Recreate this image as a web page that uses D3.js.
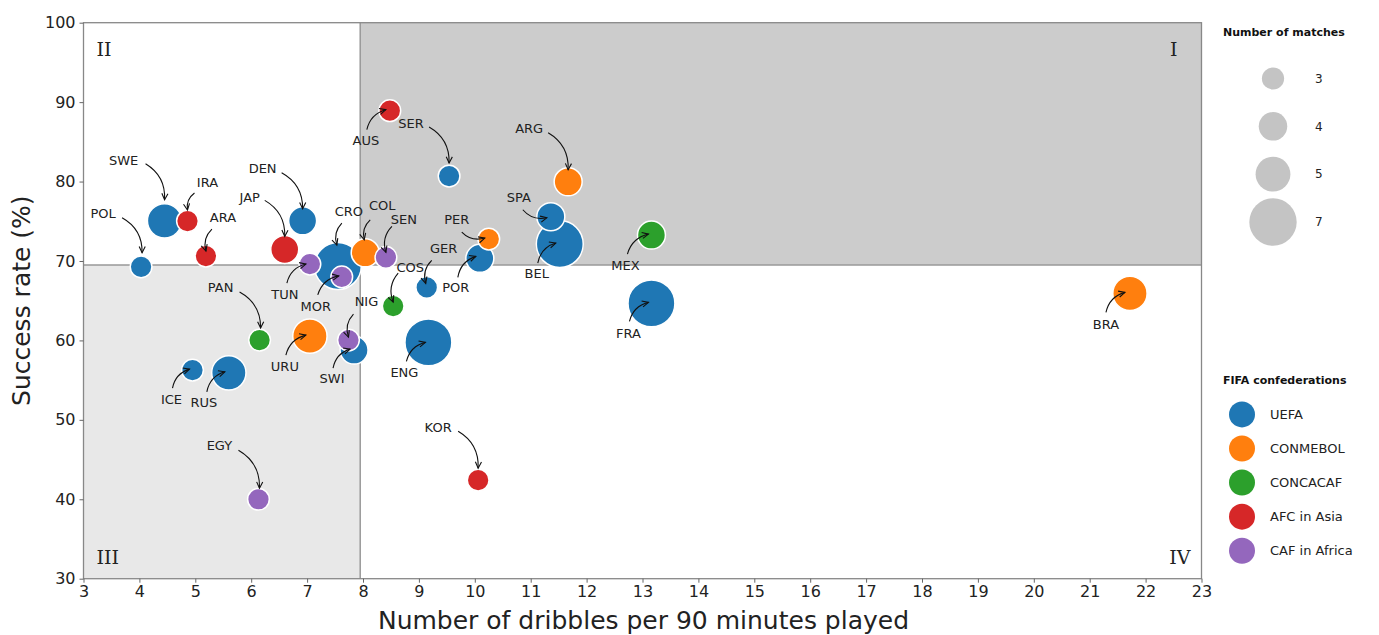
<!DOCTYPE html>
<html>
<head>
<meta charset="utf-8">
<script src="https://cdn.jsdelivr.net/npm/d3@7"></script>
<style>
  body { margin: 0; background: #fff; }
  text { font-family: "DejaVu Sans", sans-serif; }
</style>
</head>
<body>
<div id="chart-area"></div>
<script>
// data
var teams = ['POL', 'SWE', 'DEN', 'BEL', 'CRO', 'SER', 'GER', 'POR', 'ENG', 'SWI', 'ICE', 'RUS', 'SPA', 'FRA',
             'COL', 'PER', 'URU', 'ARG', 'BRA',
             'COS', 'MEX', 'PAN',
             'IRA', 'ARA', 'JAP', 'AUS', 'KOR',
             'TUN', 'MOR', 'SEN', 'NIG', 'EGY'];
var confeds = ['UEFA', 'UEFA', 'UEFA', 'UEFA', 'UEFA', 'UEFA', 'UEFA', 'UEFA', 'UEFA', 'UEFA', 'UEFA', 'UEFA', 'UEFA', 'UEFA',
               'CONMEBOL', 'CONMEBOL', 'CONMEBOL', 'CONMEBOL', 'CONMEBOL',
               'CONCACAF', 'CONCACAF', 'CONCACAF',
               'AFC in Asia', 'AFC in Asia', 'AFC in Asia', 'AFC in Asia', 'AFC in Asia',
               'CAF in Africa', 'CAF in Africa', 'CAF in Africa', 'CAF in Africa', 'CAF in Africa'];
var dribbles = [4.03, 4.45, 6.92, 11.52, 7.55, 9.54, 9.14, 10.09, 9.17, 7.84, 4.95, 5.60, 11.36, 13.16,
                8.04, 10.25, 7.05, 11.67, 21.72,
                8.54, 13.16, 6.15,
                4.86, 5.19, 6.60, 8.48, 10.06,
                7.05, 7.62, 8.41, 7.74, 6.13];
var success = [69.27, 75.06, 75.06, 72.13, 69.36, 80.69, 66.67, 70.33, 59.75, 58.78, 56.26, 55.92, 75.57, 64.66,
               71.03, 72.76, 60.54, 79.97, 65.92,
               64.32, 73.26, 60.04,
               75.03, 70.62, 71.46, 88.92, 42.4,
               69.61, 68.0, 70.45, 60.04, 40.0];
var matches = [3, 5, 4, 7, 7, 3, 3, 4, 7, 4, 3, 5, 4, 7,
               4, 3, 5, 4, 5,
               3, 4, 3,
               3, 3, 4, 3, 3,
               3, 3, 3, 3, 3];

var confedNames = ['UEFA', 'CONMEBOL', 'CONCACAF', 'AFC in Asia', 'CAF in Africa'];
var confedColors = ['#1f77b4', '#ff7f0e', '#2ca02c', '#d62728', '#9467bd'];
var sizeLegend = [3, 4, 5, 7];
var xTicks = d3.range(3, 24);
var yTicks = [30, 40, 50, 60, 70, 80, 90, 100];
var xSplit = 7.95, ySplit = 69.5;

// annotation placement, pixels from the point: text centre, arrow start, arrow end, curve
var notes = {
    POL: [-38, -53, -19, -49, 1, -14, 0.3],
    SWE: [-41, -60, -19, -57, 0, -21, 0.3],
    DEN: [-40, -52, -21, -48, 0, -12, 0.3],
    CRO: [11, -55, 4, -43, -1, -21, -0.3],
    SER: [-38, -53, -20, -49, 0, -13, 0.3],
    GER: [17, -39, 5, -27, -1, -4, -0.3],
    POR: [-24, 29, -22, 19, -4, -2, 0.3],
    ENG: [-24, 30, -22, 19, -3, 0, 0.3],
    SWI: [-22, 28, -21, 18, -4, -1, 0.3],
    ICE: [-21, 29, -20, 18, -3, -1, 0.3],
    RUS: [-25, 30, -22, 19, -4, -1, 0.3],
    BEL: [-23, 29, -22, 19, -4, -1, 0.3],
    SPA: [-32, -19, -28, -7, -4, 1, -0.3],
    FRA: [-23, 30, -22, 18, -3, -1, 0.3],
    COL: [17, -47, 5, -33, -1, -13, -0.3],
    PER: [-32, -20, -27, -7, -4, -1, -0.3],
    URU: [-25, 30, -24, 19, -4, -1, 0.3],
    ARG: [-39, -53, -20, -49, 0, -12, 0.3],
    BRA: [-24, 31, -24, 19, -5, -1, 0.3],
    COS: [17, -39, 5, -33, 0, -4, -0.3],
    MEX: [-26, 30, -24, 19, -3, -1, 0.3],
    PAN: [-39, -53, -20, -48, 1, -12, 0.3],
    IRA: [20, -39, 7, -28, 0, -11, -0.3],
    ARA: [17, -39, 6, -27, 0, -5, -0.3],
    JAP: [-35, -52, -20, -49, 0, -13, 0.3],
    AUS: [-24, 30, -23, 19, -4, -1, 0.3],
    KOR: [-40, -53, -20, -49, 0, -12, 0.3],
    TUN: [-25, 30, -23, 19, -4, 0, 0.3],
    MOR: [-26, 29, -24, 18, -3, -1, 0.3],
    SEN: [18, -38, 6, -31, 0, -5, -0.3],
    NIG: [18, -39, 5, -26, 0, -3, -0.3],
    EGY: [-39, -54, -20, -49, 1, -11, 0.3]
};

var data = teams.map((t, i) => {
    return { team: t, confed: confeds[i], x: dribbles[i], y: success[i], n: matches[i] };
});

var margin = { top: 22.7, right: 177.5, bottom: 56.3, left: 83.5 };
var width = 1379 - margin.left - margin.right;
var height = 635 - margin.top - margin.bottom;

var svg = d3.select('#chart-area')
    .append('svg')
        .attr('width', 1379)
        .attr('height', 635);

var g = svg.append('g')
    .attr('transform', 'translate(' + margin.left + ',' + margin.top + ')');

var x = d3.scaleLinear().domain([3, 23]).range([0, width]);
var y = d3.scaleLinear().domain([30, 100]).range([height, 0]);
var r = d3.scaleLinear().domain([3, 7]).range([11.6, 24.2]);
var color = d3.scaleOrdinal().domain(confedNames).range(confedColors);

// quadrant shading
g.append('rect')
    .attr('x', x(xSplit)).attr('y', 0)
    .attr('width', x(23) - x(xSplit)).attr('height', y(ySplit))
    .attr('fill', '#cccccc');
g.append('rect')
    .attr('x', 0).attr('y', y(ySplit))
    .attr('width', x(xSplit)).attr('height', height - y(ySplit))
    .attr('fill', '#e8e8e8');

g.append('line')
    .attr('x1', x(xSplit)).attr('x2', x(xSplit))
    .attr('y1', 0).attr('y2', height)
    .attr('stroke', '#999').attr('stroke-width', 1.5);
g.append('line')
    .attr('x1', 0).attr('x2', width)
    .attr('y1', y(ySplit)).attr('y2', y(ySplit))
    .attr('stroke', '#999').attr('stroke-width', 1.5);

// quadrant numerals
var roman = [
    { t: 'II', px: 13, py: 33, anchor: 'start' },
    { t: 'I', px: width - 24, py: 33, anchor: 'end' },
    { t: 'III', px: 13, py: height - 15, anchor: 'start' },
    { t: 'IV', px: width - 11, py: height - 15, anchor: 'end' }
];
g.selectAll('.roman').data(roman).enter()
    .append('text')
    .attr('class', 'roman')
    .attr('x', (d) => d.px)
    .attr('y', (d) => d.py)
    .attr('text-anchor', (d) => d.anchor)
    .style('font-family', '"DejaVu Serif", serif')
    .attr('font-size', '19px')
    .attr('fill', '#222')
    .text((d) => d.t);

// frame
g.append('rect')
    .attr('width', width).attr('height', height)
    .attr('fill', 'none')
    .attr('stroke', '#888').attr('stroke-width', 1.3);

// axes
var xAxisCall = d3.axisBottom(x).tickValues(xTicks).tickSize(4).tickPadding(3).tickFormat(d3.format('d'));
var xAxis = g.append('g')
    .attr('transform', 'translate(0,' + height + ')')
    .call(xAxisCall);
var yAxisCall = d3.axisLeft(y).tickValues(yTicks).tickSize(4).tickPadding(4);
var yAxis = g.append('g').call(yAxisCall);

[xAxis, yAxis].forEach((a) => {
    a.select('.domain').remove();
    a.selectAll('.tick line').attr('stroke', '#666');
    a.selectAll('.tick text')
        .attr('fill', '#222')
        .attr('font-size', '16px')
        .attr('font-family', '"DejaVu Sans", sans-serif');
});

g.append('text')
    .attr('x', width / 2 + 1)
    .attr('y', height + 50)
    .attr('text-anchor', 'middle')
    .attr('font-size', '25px')
    .attr('fill', '#222')
    .text('Number of dribbles per 90 minutes played');

g.append('text')
    .attr('x', -height / 2)
    .attr('y', -54)
    .attr('transform', 'rotate(-90)')
    .attr('text-anchor', 'middle')
    .attr('font-size', '25px')
    .attr('fill', '#222')
    .text('Success rate (%)');

// bubbles, drawn in confederation order
g.selectAll('.bubble').data(data).enter()
    .append('circle')
    .attr('class', 'bubble')
    .attr('cx', (d) => x(d.x))
    .attr('cy', (d) => y(d.y))
    .attr('r', (d) => r(d.n) - 0.75)
    .attr('fill', (d) => color(d.confed))
    .attr('stroke', '#fff')
    .attr('stroke-width', 1.5);

// annotations with curved arrows
var ann = g.append('g');
data.forEach((d) => {
    var o = notes[d.team];
    var cx = x(d.x), cy = y(d.y);
    var x1 = cx + o[2], y1 = cy + o[3];
    var x2 = cx + o[4], y2 = cy + o[5];
    var dx = x2 - x1, dy = y2 - y1;
    var qx = (x1 + x2) / 2 + o[6] * dy;
    var qy = (y1 + y2) / 2 - o[6] * dx;
    ann.append('path')
        .attr('d', 'M' + x1 + ',' + y1 + 'Q' + qx + ',' + qy + ' ' + x2 + ',' + y2)
        .attr('fill', 'none')
        .attr('stroke', '#111')
        .attr('stroke-width', 1.1);
    // open arrow head
    var a = Math.atan2(y2 - qy, x2 - qx);
    var hl = 7, hw = 0.45;
    var head = 'M' + (x2 - hl * Math.cos(a - hw)) + ',' + (y2 - hl * Math.sin(a - hw)) +
               'L' + x2 + ',' + y2 +
               'L' + (x2 - hl * Math.cos(a + hw)) + ',' + (y2 - hl * Math.sin(a + hw));
    ann.append('path')
        .attr('d', head)
        .attr('fill', 'none')
        .attr('stroke', '#111')
        .attr('stroke-width', 1.1);
    ann.append('text')
        .attr('x', cx + o[0])
        .attr('y', cy + o[1])
        .attr('dy', '0.36em')
        .attr('text-anchor', 'middle')
        .attr('font-size', '13px')
        .attr('fill', '#222')
        .text(d.team);
});

// size legend
var lg = svg.append('g');
lg.append('text')
    .attr('x', 1223).attr('y', 36)
    .attr('font-size', '11px').attr('font-weight', 'bold')
    .attr('fill', '#111')
    .text('Number of matches');
var sizeY = d3.scalePoint().domain(sizeLegend).range([78.5, 222]);
sizeLegend.forEach((n) => {
    lg.append('circle')
        .attr('cx', 1273).attr('cy', sizeY(n))
        .attr('r', r(n) - 0.5)
        .attr('fill', '#c4c4c4');
    lg.append('text')
        .attr('x', 1315).attr('y', sizeY(n))
        .attr('dy', '0.36em')
        .attr('font-size', '12px')
        .attr('fill', '#222')
        .text(n);
});

// colour legend
lg.append('text')
    .attr('x', 1223).attr('y', 384)
    .attr('font-size', '11px').attr('font-weight', 'bold')
    .attr('fill', '#111')
    .text('FIFA confederations');
var confY = d3.scalePoint().domain(confedNames).range([414.4, 550.7]);
confedNames.forEach((c) => {
    lg.append('circle')
        .attr('cx', 1242).attr('cy', confY(c))
        .attr('r', 13)
        .attr('fill', color(c));
    lg.append('text')
        .attr('x', 1270).attr('y', confY(c))
        .attr('dy', '0.36em')
        .attr('font-size', '13px')
        .attr('fill', '#222')
        .text(c);
});
</script>
</body>
</html>
